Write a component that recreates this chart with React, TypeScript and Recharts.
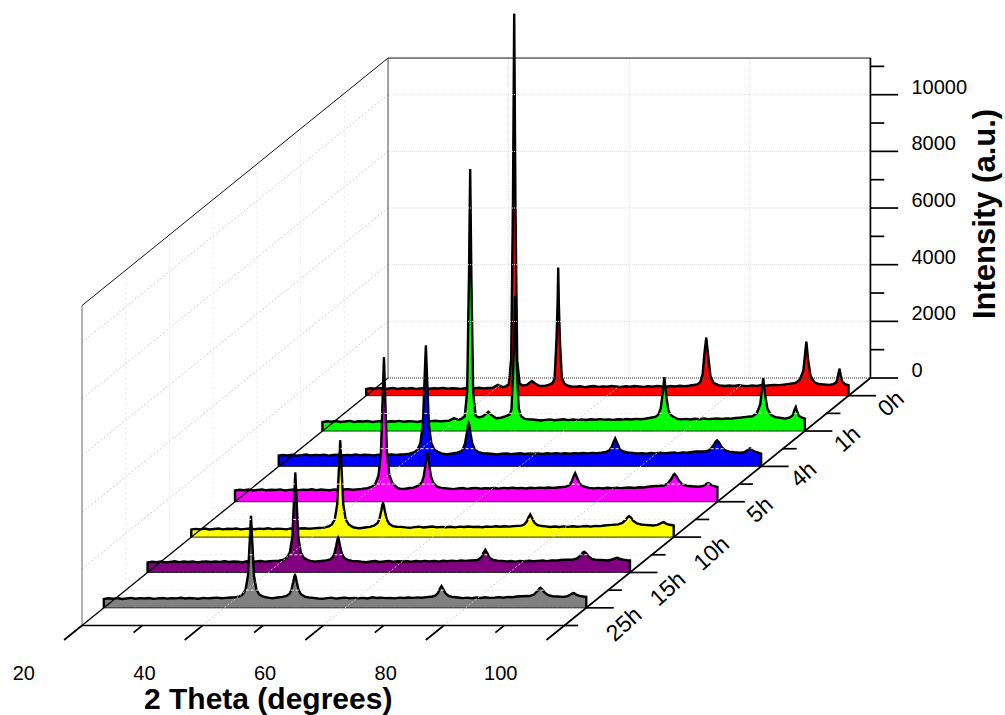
import React from 'react';
import { ComposedChart, Area, Line, XAxis, YAxis, ReferenceDot } from 'recharts';

const FONT = '"Liberation Sans", Arial, sans-serif';

// 2 theta sample positions: flat stretches and the five reflections
const thetaFlatA = [
  20, 20.75, 21.5, 22.25, 23, 23.75, 24.5, 25.25, 26, 26.75, 27.5, 28.25, 29, 29.75, 30.5,
  31.25, 32, 32.75, 33.5, 34.25, 35, 35.75, 36.5, 37.25, 38, 38.75, 39.5, 40.25, 41,
];
const thetaPeak1 = [41.7, 42.5, 43, 43.5, 43.9, 44.2, 44.4, 44.6, 44.9, 45.3, 45.8, 46.5];
const thetaFlatB = [47, 47.5, 48, 48.8, 49.6, 50.3];
const thetaPeak2 = [50.8, 51.1, 51.4, 51.6, 51.7, 51.8, 52, 52.3, 52.7, 53.3, 54];
const thetaFlatC = [
  54.75, 55.5, 56.25, 57, 57.75, 58.5, 59.25, 60, 60.75, 61.5, 62.25, 63, 63.75,
  64.5, 65.25, 66, 66.75, 67.5, 68.25, 69, 69.75, 70.5, 71.25, 72, 72.75, 73.5,
];
const thetaPeak3 = [74.5, 75, 75.4, 75.7, 76, 76.3, 76.7, 77.2, 78];
const thetaFlatD = [78.75, 79.5, 80.25, 81, 81.75, 82.5, 83.25, 84, 84.75, 85.5, 86.25, 87, 87.75, 88.5, 89.25];
const thetaPeak4 = [90.5, 91.2, 91.8, 92.1, 92.3, 92.6, 93, 93.6, 94.3];
const thetaPeak5 = [95, 96, 96.7, 97.2, 97.5, 97.7, 97.9, 98.2, 98.7, 99.3, 100];

// how far each scan's five reflections sit from the nominal positions above
const shift0h = [0.15, 0.15, 0.4, 0.7, 0.8];
const shift1h = [0.1, 0.25, 0.7, 0.8, 0.8];
const shift4h = [0, -0.2, -0.2, 0.4, 0.5];
const shift5h = [0.3, 0.2, 0.4, 0.6, 0.8];
const shift10h = [0.3, 0.1, 0.2, 0.3, 0.6];
const shift15h = [0.1, -0.1, 0, 0.1, 0.2];
const shift25h = [0, 0, 0, 0.1, 0.2];

const scan0h = [
  235, 260, 245, 270, 240, 255, 275, 238, 262, 250, 272, 240, 258, 268, 244,
  262, 252, 275, 246, 264, 256, 240, 270, 250, 266, 282, 258, 272, 285,
  380, 300, 330, 400, 1300, 7000, 13480, 6900, 1250, 430, 360, 380,
  440, 520, 430, 340, 345, 380,
  450, 620, 1900, 3300, 4518, 3250, 1850, 640, 430, 350, 320,
  318, 335, 300, 325, 342, 310, 330, 315, 345, 322, 308, 335, 318,
  340, 325, 312, 338, 320, 345, 328, 315, 340, 330, 348, 335, 352,
  400, 480, 760, 1500, 2047, 1450, 700, 450, 370,
  358, 340, 360, 345, 370, 350, 338, 362, 348, 372, 355, 368, 380, 372, 392,
  450, 560, 880, 1500, 1906, 1250, 700, 480, 410,
  400, 380, 410, 480, 760, 953, 720, 470, 400, 370, 350,
];
const scan1h = [
  320, 345, 330, 352, 318, 338, 358, 322, 345, 335, 355, 322, 340, 352, 328,
  346, 335, 358, 330, 348, 340, 322, 354, 335, 350, 365, 342, 356, 368,
  450, 400, 440, 520, 1400, 5500, 9250, 5400, 1350, 540, 480, 520,
  590, 680, 570, 450, 470, 520,
  580, 760, 2200, 3700, 4760, 3650, 2150, 800, 520, 430, 410,
  405, 388, 372, 395, 410, 380, 400, 418, 385, 405, 395, 410, 390,
  415, 400, 420, 402, 412, 395, 418, 405, 425, 410, 428, 415, 432,
  500, 580, 800, 1300, 1900, 1250, 700, 540, 450,
  432, 412, 428, 408, 432, 415, 440, 420, 432, 445, 425, 448, 438, 462, 475,
  520, 620, 940, 1500, 1870, 1300, 780, 560, 490,
  470, 440, 480, 560, 760, 847, 700, 540, 470, 440, 420,
];
const scan4h = [
  380, 402, 385, 412, 378, 398, 418, 384, 405, 395, 415, 382, 400, 412, 390,
  408, 396, 420, 392, 410, 400, 385, 416, 398, 412, 425, 405, 418, 432,
  450, 505, 590, 825, 1490, 3150, 4270, 3140, 1480, 830, 600, 500,
  460, 440, 435, 455, 485, 540,
  640, 815, 1180, 1465, 1520, 1460, 1170, 810, 610, 505, 465,
  455, 438, 422, 448, 460, 432, 450, 466, 438, 455, 445, 460, 440,
  465, 450, 468, 452, 462, 445, 470, 455, 475, 460, 478, 465, 482,
  515, 565, 675, 850, 990, 845, 640, 540, 490,
  472, 455, 470, 452, 475, 458, 482, 462, 475, 490, 470, 495, 482, 508, 528,
  530, 605, 770, 885, 920, 850, 700, 570, 520,
  500, 480, 500, 570, 620, 635, 610, 550, 500, 470, 450,
];
const scan5h = [
  400, 422, 405, 432, 398, 418, 438, 404, 425, 415, 435, 402, 420, 432, 410,
  428, 416, 440, 412, 430, 420, 405, 436, 418, 432, 445, 425, 438, 452,
  480, 545, 650, 930, 1740, 3730, 5100, 3720, 1730, 940, 660, 520,
  480, 455, 450, 475, 500, 560,
  695, 900, 1320, 1655, 1720, 1650, 1310, 895, 660, 535, 490,
  480, 462, 445, 472, 485, 455, 475, 490, 462, 480, 470, 485, 465,
  490, 475, 492, 478, 488, 470, 494, 480, 498, 485, 502, 490, 505,
  535, 585, 695, 870, 1010, 865, 660, 560, 510,
  492, 472, 488, 468, 492, 476, 500, 482, 492, 505, 488, 512, 502, 528, 548,
  575, 650, 820, 945, 980, 905, 745, 615, 565,
  545, 530, 550, 610, 650, 660, 640, 590, 550, 520, 490,
];
const scan10h = [
  265, 292, 272, 302, 268, 285, 305, 275, 295, 285, 305, 272, 290, 302, 280,
  298, 286, 310, 282, 300, 292, 275, 306, 288, 302, 315, 295, 308, 320,
  335, 375, 440, 625, 1165, 2500, 3420, 2495, 1160, 630, 445, 355,
  340, 320, 315, 340, 360, 405,
  500, 640, 925, 1150, 1190, 1145, 920, 635, 475, 390, 365,
  362, 342, 328, 352, 368, 338, 358, 374, 345, 360, 350, 365, 345,
  370, 355, 375, 358, 368, 350, 376, 360, 382, 366, 385, 372, 388,
  405, 445, 540, 685, 800, 680, 510, 425, 390,
  378, 358, 375, 355, 378, 362, 385, 368, 378, 392, 372, 398, 388, 410, 425,
  450, 500, 625, 715, 740, 690, 575, 480, 445,
  425, 410, 430, 480, 515, 530, 510, 470, 435, 420, 410,
];
const scan15h = [
  355, 382, 362, 392, 358, 375, 395, 365, 385, 372, 392, 358, 378, 390, 368,
  386, 374, 398, 370, 388, 378, 362, 394, 376, 390, 405, 382, 396, 408,
  415, 455, 525, 710, 1250, 2600, 3530, 2590, 1245, 715, 520, 435,
  410, 390, 385, 405, 425, 465,
  545, 680, 960, 1180, 1225, 1175, 955, 675, 520, 440, 405,
  400, 378, 362, 388, 405, 372, 392, 408, 380, 395, 385, 400, 378,
  405, 390, 410, 392, 402, 385, 412, 395, 418, 402, 420, 408, 422,
  430, 470, 555, 695, 800, 690, 530, 450, 415,
  410, 388, 402, 382, 408, 392, 415, 398, 408, 420, 402, 428, 420, 438, 450,
  455, 505, 620, 705, 730, 680, 570, 480, 445,
  440, 425, 450, 490, 515, 520, 505, 475, 450, 435, 425,
];
const scan25h = [
  310, 338, 318, 348, 312, 330, 350, 320, 342, 330, 348, 315, 335, 348, 325,
  342, 332, 355, 328, 345, 335, 320, 350, 332, 346, 360, 338, 352, 362,
  370, 405, 470, 640, 1140, 2390, 3250, 2370, 1130, 645, 465, 390,
  370, 350, 340, 365, 385, 420,
  500, 630, 900, 1110, 1150, 1110, 895, 625, 475, 395, 365,
  352, 330, 318, 342, 358, 325, 345, 360, 335, 350, 338, 352, 332,
  372, 348, 358, 342, 350, 335, 360, 345, 365, 352, 368, 358, 378,
  400, 435, 520, 660, 765, 655, 495, 415, 380,
  362, 342, 358, 338, 362, 346, 372, 350, 360, 378, 358, 385, 372, 398, 410,
  415, 470, 590, 680, 706, 650, 540, 445, 410,
  400, 385, 415, 470, 510, 520, 500, 455, 420, 400, 390,
];

// back to front, so nearer scans paint over the ones behind
const scanLabels = ['0h', '1h', '4h', '5h', '10h', '15h', '25h'];
const scanColors = ['#ff0000', '#00ff00', '#0000ff', '#ff00ff', '#ffff00', '#800080', '#808080'];
const scans = [scan0h, scan1h, scan4h, scan5h, scan10h, scan15h, scan25h];
const scanShifts = [shift0h, shift1h, shift4h, shift5h, shift10h, shift15h, shift25h];

const thetaTicks = [20, 40, 60, 80, 100];
const thetaMinorTicks = [30, 50, 70, 90];
const intensityTicks = [0, 2000, 4000, 6000, 8000, 10000];
const intensityMinorTicks = [1000, 3000, 5000, 7000, 9000, 11000];

// oblique projection: one depth step moves a scan right and up
const THETA_MIN = 20;
const THETA_MAX = 100;
const Z_TOP = 11294;
const DEPTH_MAX = 7;
const THETA_PER_DEPTH = 7.25;
const Z_PER_DEPTH = 1248;
const PX_PER_THETA = 6.03;
const PX_PER_Z = 0.02833;

const px = (theta: number, depth: number) => theta + depth * THETA_PER_DEPTH;
const py = (z: number, depth: number) => z + depth * Z_PER_DEPTH;
const pt = (theta: number, z: number, depth: number) => ({ x: px(theta, depth), y: py(z, depth) });

const xDomain = [THETA_MIN - 82 / PX_PER_THETA, THETA_MIN + (1005 - 82) / PX_PER_THETA];
const yDomain = [-(715 - 625.5) / PX_PER_Z, 625.5 / PX_PER_Z];

const scanTheta = (s: number[]) => [
  ...thetaFlatA,
  ...thetaPeak1.map((t) => t + s[0]),
  ...thetaFlatB,
  ...thetaPeak2.map((t) => t + s[1]),
  ...thetaFlatC,
  ...thetaPeak3.map((t) => t + s[2]),
  ...thetaFlatD,
  ...thetaPeak4.map((t) => t + s[3]),
  ...thetaPeak5.map((t) => Math.min(THETA_MAX, t + s[4])),
];

const scanRows = (values: number[], index: number) => {
  const depth = scans.length - index - 0.5;
  const theta = scanTheta(scanShifts[index]);
  const base = py(0, depth);
  const rows = values.map((z, i) => ({
    x: px(theta[i], depth),
    top: py(z, depth),
    range: [base, py(z, depth)],
  }));
  const start = { x: px(THETA_MIN, depth), top: base, range: [base, base] };
  const end = { x: px(THETA_MAX, depth), top: base, range: [base, base] };
  return [start, ...rows, end];
};

type Seg = { from: any; to: any; color: string; width: number; dash?: string };

const seg = (from: any, to: any, color: string, width: number, dash?: string): Seg => ({ from, to, color, width, dash });
const steps = (n: number) => Array.from({ length: n }, (_, i) => i + 1);

const gridLines: Seg[] = [
  ...intensityTicks.slice(1).map((z) => seg(pt(THETA_MIN, z, DEPTH_MAX), pt(THETA_MAX, z, DEPTH_MAX), '#dddddd', 1, '1 1')),
  ...intensityTicks.slice(1).map((z) => seg(pt(THETA_MIN, z, 0), pt(THETA_MIN, z, DEPTH_MAX), '#cccccc', 1, '2 2')),
  ...thetaTicks.slice(1, -1).map((t) => seg(pt(t, 0, DEPTH_MAX), pt(t, Z_TOP, DEPTH_MAX), '#dddddd', 1, '1 1')),
  ...thetaTicks.slice(1, -1).map((t) => seg(pt(t, 0, 0), pt(t, 0, DEPTH_MAX), '#cccccc', 1, '2 2')),
  ...steps(6).map((d) => seg(pt(THETA_MIN, 0, d), pt(THETA_MIN, Z_TOP, d), '#eeeeee', 1, '3 2')),
  ...steps(6).map((d) => seg(pt(THETA_MIN, 0, d), pt(THETA_MAX, 0, d), '#eeeeee', 1, '3 2')),
];

const frameLines: Seg[] = [
  seg(pt(THETA_MIN, 0, 0), pt(THETA_MIN, Z_TOP, 0), '#666666', 1),
  seg(pt(THETA_MIN, Z_TOP, 0), pt(THETA_MIN, Z_TOP, DEPTH_MAX), '#111111', 1),
  seg(pt(THETA_MIN, 0, DEPTH_MAX), pt(THETA_MIN, Z_TOP, DEPTH_MAX), '#444444', 1),
  seg(pt(THETA_MIN, Z_TOP, DEPTH_MAX), pt(THETA_MAX, Z_TOP, DEPTH_MAX), '#111111', 1),
  seg(pt(THETA_MIN, 0, DEPTH_MAX), pt(THETA_MAX, 0, DEPTH_MAX), '#333333', 1, '1 1'),
  seg(pt(THETA_MIN, 0, 0), pt(THETA_MIN, 0, DEPTH_MAX), '#000000', 1.3),
  seg(pt(THETA_MAX, 0, DEPTH_MAX), pt(THETA_MAX, Z_TOP, DEPTH_MAX), '#000000', 1.7),
  seg(pt(THETA_MIN, 0, 0), pt(THETA_MAX, 0, 0), '#000000', 1.7),
  seg(pt(THETA_MAX, 0, -0.41), pt(THETA_MAX, 0, DEPTH_MAX), '#000000', 1.7),
];

// tick stubs run along the depth direction for 2 theta, sideways for depth and intensity
const tickLines: Seg[] = [
  ...thetaTicks.slice(0, -1).map((t) => seg(pt(t, 0, 0), pt(t, 0, -0.41), '#000000', 1.7)),
  ...thetaMinorTicks.map((t) => seg(pt(t, 0, 0), pt(t, 0, -0.2), '#000000', 1.7)),
  ...scanLabels.map((_, i) => seg(pt(THETA_MAX, 0, i + 0.5), pt(THETA_MAX + 4.56, 0, i + 0.5), '#000000', 1.7)),
  ...scanLabels.map((_, i) => seg(pt(THETA_MAX, 0, i), pt(THETA_MAX + 2.28, 0, i), '#000000', 1.7)),
  ...intensityTicks.map((z) => seg(pt(THETA_MAX, z, DEPTH_MAX), pt(THETA_MAX + 4.6, z, DEPTH_MAX), '#000000', 1.7)),
  ...intensityMinorTicks.map((z) => seg(pt(THETA_MAX, z, DEPTH_MAX), pt(THETA_MAX + 2.3, z, DEPTH_MAX), '#000000', 1.7)),
];

const renderSegs = (list: Seg[], prefix: string) =>
  list.map((s, i) => (
    <Line
      key={`${prefix}${i}`}
      data={[s.from, s.to]}
      dataKey="y"
      stroke={s.color}
      strokeWidth={s.width}
      strokeDasharray={s.dash}
      dot={false}
      activeDot={false}
      legendType="none"
      isAnimationActive={false}
    />
  ));

function Label(props: any) {
  const { cx, cy, text, dx = 0, dy = 0, anchor = 'start', size = 20, bold, rotate } = props;
  const x = cx + dx;
  const y = cy + dy;
  return (
    <text
      x={x}
      y={y}
      textAnchor={anchor}
      fontFamily={FONT}
      fontSize={size}
      fontWeight={bold ? 'bold' : 'normal'}
      fill="#000000"
      transform={rotate ? `rotate(${rotate} ${x} ${y})` : undefined}
    >
      {text}
    </text>
  );
}

const labelAt = (key: string, p: { x: number; y: number }, opts: any) => (
  <ReferenceDot key={key} x={p.x} y={p.y} r={0} ifOverflow="visible" shape={(s: any) => <Label {...s} {...opts} />} />
);

export default function App() {
  return (
    <div style={{ position: 'absolute', left: 0, top: 0 }}>
      <ComposedChart width={1005} height={715} margin={{ top: 0, right: 0, bottom: 0, left: 0 }}>
        <XAxis dataKey="x" type="number" domain={xDomain} allowDataOverflow hide />
        <YAxis type="number" domain={yDomain} allowDataOverflow hide />
        {renderSegs(gridLines, 'grid')}
        {renderSegs(frameLines, 'frame')}
        {renderSegs(tickLines, 'tick')}
        {scans.map((values, i) => {
          const rows = scanRows(values, i);
          return (
            <React.Fragment key={scanLabels[i]}>
              <Area
                data={rows}
                dataKey="range"
                type="linear"
                fill={scanColors[i]}
                fillOpacity={1}
                stroke="#222222"
                strokeWidth={1}
                dot={false}
                activeDot={false}
                isAnimationActive={false}
              />
              <Area
                data={rows}
                dataKey="top"
                baseValue={rows[0].top}
                type="linear"
                fill="none"
                stroke="#000000"
                strokeWidth={2.4}
                dot={false}
                activeDot={false}
                isAnimationActive={false}
              />
            </React.Fragment>
          );
        })}
        {thetaTicks.map((t) =>
          labelAt(`t${t}`, pt(t, 0, 0), { text: String(t), dx: -47, dy: 54, anchor: 'end' })
        )}
        {intensityTicks.map((z) =>
          labelAt(`z${z}`, pt(THETA_MAX, z, DEPTH_MAX), { text: String(z), dx: 41, dy: -1 })
        )}
        {scanLabels.map((label, i) =>
          labelAt(`d${label}`, pt(THETA_MAX, 0, scans.length - i - 0.5), {
            text: label,
            dx: 57,
            dy: label.length === 2 ? 5 : 9,
            size: 23,
            anchor: 'end',
            rotate: -42,
          })
        )}
        {labelAt('xTitle', pt(THETA_MIN, 0, 0), { text: '2 Theta (degrees)', dx: 62, dy: 83, size: 30, bold: true })}
        {labelAt('yTitle', pt(THETA_MAX, 0, DEPTH_MAX), {
          text: 'Intensity (a.u.)',
          dx: 125,
          dy: -59,
          size: 31,
          bold: true,
          rotate: -90,
        })}
      </ComposedChart>
    </div>
  );
}
